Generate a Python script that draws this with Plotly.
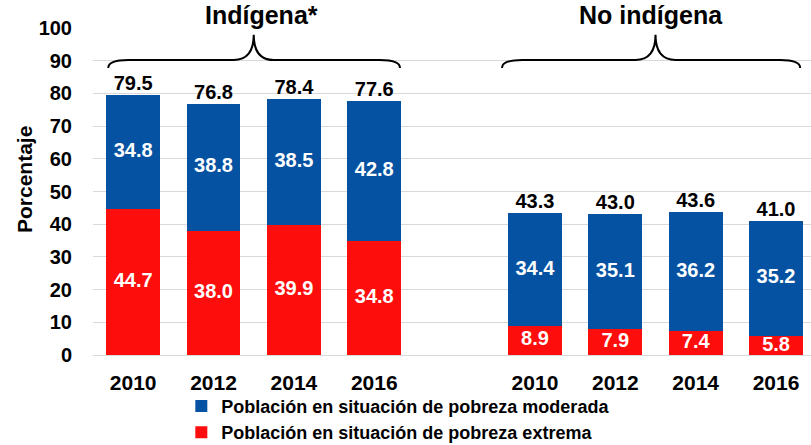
import plotly.graph_objects as go

groups = ["Indígena*", "No indígena"]
years = ["2010", "2012", "2014", "2016"]
moderada = [[34.8, 38.8, 38.5, 42.8], [34.4, 35.1, 36.2, 35.2]]
extrema = [[44.7, 38.0, 39.9, 34.8], [8.9, 7.9, 7.4, 5.8]]
totales = [[79.5, 76.8, 78.4, 77.6], [43.3, 43.0, 43.6, 41.0]]
y_title = "Porcentaje"

BLUE = "#0652A2"
RED = "#FE0D0D"
FONT = "Liberation Sans, Arial, sans-serif"

xs, ex, mo, to, yl = [], [], [], [], []
for g in range(len(groups)):
    for i, yr in enumerate(years):
        xs.append(g * (len(years) + 1) + i)
        ex.append(extrema[g][i])
        mo.append(moderada[g][i])
        to.append(totales[g][i])
        yl.append(yr)

fig = go.Figure()
fig.add_trace(go.Bar(x=xs, y=ex, name="Población en situación de pobreza extrema",
                     marker=dict(color=RED, line=dict(width=0)), width=0.67))
fig.add_trace(go.Bar(x=xs, y=mo, name="Población en situación de pobreza moderada",
                     marker=dict(color=BLUE, line=dict(width=0)), width=0.67))

LBL = 20
fig.add_trace(go.Scatter(x=xs, y=[e / 2 for e in ex], mode="text",
                         text=[f"{v:.1f}" for v in ex], showlegend=False, hoverinfo="skip",
                         textfont=dict(color="white", size=LBL, family=FONT, weight="bold"),
                         cliponaxis=False))
fig.add_trace(go.Scatter(x=xs, y=[e + m / 2 for e, m in zip(ex, mo)], mode="text",
                         text=[f"{v:.1f}" for v in mo], showlegend=False, hoverinfo="skip",
                         textfont=dict(color="white", size=LBL, family=FONT, weight="bold"),
                         cliponaxis=False))
fig.add_trace(go.Scatter(x=xs, y=to, mode="text", textposition="top center",
                         text=[f"{v:.1f}" for v in to], showlegend=False, hoverinfo="skip",
                         textfont=dict(color="black", size=LBL, family=FONT, weight="bold"),
                         cliponaxis=False))


def brace(x0, x1, xt, yb=87.8, yh=90.2, ytip=97.9, r=0.25):
    return (f"M {x0},{yb} Q {x0},{yh} {x0 + r},{yh} L {xt - r},{yh} "
            f"Q {xt},{yh} {xt},{ytip} Q {xt},{yh} {xt + r},{yh} "
            f"L {x1 - r},{yh} Q {x1},{yh} {x1},{yb}")


n = len(years)
for g, name in enumerate(groups):
    first = g * (n + 1)
    last = first + n - 1
    mid = (first + last) / 2
    x0 = first - (0.31 if g == 0 else 0.41)
    x1 = last + (0.32 if g == 0 else 0.30)
    fig.add_shape(type="path", path=brace(x0, x1, mid), xref="x", yref="y",
                  line=dict(color="black", width=2))
    fig.add_annotation(x=mid, y=1.04, xref="x", yref="paper", text=name, showarrow=False,
                       xanchor="center", yanchor="middle", xshift=8 if g == 0 else -5,
                       font=dict(size=25, color="black", family=FONT, weight="bold"))

fig.add_annotation(x=-0.0961, y=0.535, xref="paper", yref="paper", text=y_title,
                   textangle=-90, showarrow=False, xanchor="center", yanchor="middle",
                   font=dict(size=21, color="black", family=FONT, weight="bold"))

fig.update_layout(
    width=811, height=445,
    margin=dict(l=93, r=0, t=28, b=90, autoexpand=False),
    plot_bgcolor="white", paper_bgcolor="white",
    barmode="stack",
    font=dict(family=FONT, color="black"),
    showlegend=True,
    legend=dict(orientation="v", traceorder="reversed", x=0.123, xanchor="left",
                y=-0.10, yanchor="top", font=dict(size=18, family=FONT, weight="bold"),
                bgcolor="rgba(0,0,0,0)", tracegroupgap=0, itemwidth=30),
)
fig.update_xaxes(tickvals=xs, ticktext=yl, range=[-0.5, 8.435], showgrid=False,
                 zeroline=False, showline=False, ticks="outside", ticklen=9,
                 tickcolor="rgba(0,0,0,0)", automargin=False,
                 tickfont=dict(size=21, family=FONT, weight="bold", color="black"))
fig.update_yaxes(range=[0, 100], dtick=10, showgrid=True, gridcolor="#d9d9d9", gridwidth=1,
                 zeroline=True, zerolinecolor="#d9d9d9", zerolinewidth=1, showline=False,
                 ticks="outside", ticklen=16, tickcolor="rgba(0,0,0,0)", automargin=False,
                 tickfont=dict(size=20, family=FONT, weight="bold", color="black"))

fig.write_html("out.html", config={"displayModeBar": False},
               post_script="document.body.style.margin='0';document.body.style.overflow='hidden';")
